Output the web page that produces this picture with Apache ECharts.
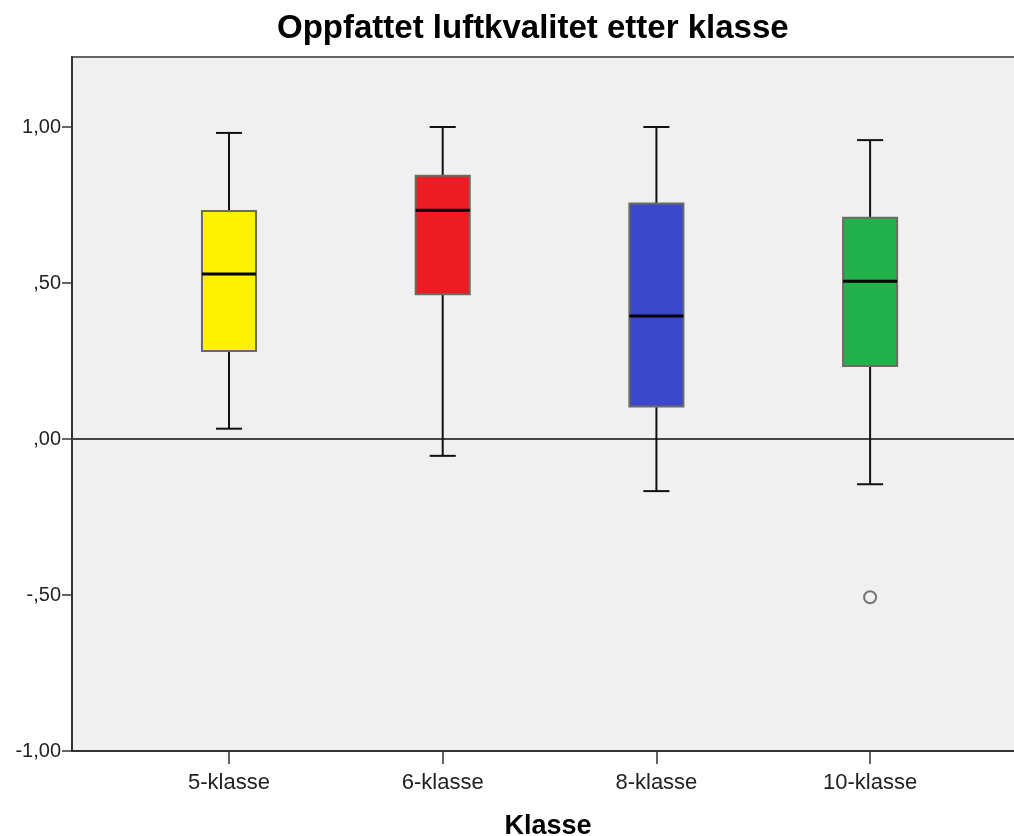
<!DOCTYPE html>
<html><head><meta charset="utf-8">
<script src="https://cdn.jsdelivr.net/npm/echarts@6/dist/echarts.min.js"></script>
<style>html,body{margin:0;padding:0;background:#fff;overflow:hidden}#c{width:1014px;height:836px}</style>
</head><body><div id="c"></div>
<script>
// ---- data ----
const categories = ['5-klasse', '6-klasse', '8-klasse', '10-klasse'];
const whiskerLow  = [0.033, -0.054, -0.167, -0.145];
const q1          = [0.282,  0.464,  0.104,  0.234];
const median      = [0.529,  0.733,  0.394,  0.506];
const q3          = [0.731,  0.844,  0.755,  0.709];
const whiskerHigh = [0.981,  1.000,  1.000,  0.958];
const outlierCategory = [3];      // index into categories
const outlierValue    = [-0.507];
const yTickValues = [-1, -0.5, 0, 0.5, 1];
// ---- style ----
const boxColors = ['#FFF200', '#ED1C24', '#3C48CC', '#22B14C'];
const FONT = "'Liberation Sans', Arial, sans-serif";

const boxData = categories.map((c, i) => [i + 1, whiskerLow[i], q1[i], median[i], q3[i], whiskerHigh[i]]);
const outData = outlierCategory.map((ci, k) => [ci + 1, outlierValue[k]]);

function fmtY(v) {
  let s = Math.abs(v).toFixed(2).replace('.', ',');
  if (s.startsWith('0')) s = s.slice(1);
  return (v < 0 ? '-' : '') + s;
}

function renderItem(params, api) {
  const x = api.value(0);
  const lo = api.coord([x, api.value(1)]);
  const b1 = api.coord([x, api.value(2)]);
  const md = api.coord([x, api.value(3)]);
  const b3 = api.coord([x, api.value(4)]);
  const hi = api.coord([x, api.value(5)]);
  const unit = api.size([1, 0])[0];
  const bw = unit * 0.253, cw = unit * 0.122;
  const cx = lo[0];
  const wStyle = { stroke: '#111', lineWidth: 2 };
  return {
    type: 'group',
    children: [
      { type: 'line', shape: { x1: cx, y1: b3[1], x2: cx, y2: hi[1] }, style: wStyle },
      { type: 'line', shape: { x1: cx, y1: b1[1], x2: cx, y2: lo[1] }, style: wStyle },
      { type: 'line', shape: { x1: cx - cw / 2, y1: hi[1], x2: cx + cw / 2, y2: hi[1] }, style: wStyle },
      { type: 'line', shape: { x1: cx - cw / 2, y1: lo[1], x2: cx + cw / 2, y2: lo[1] }, style: wStyle },
      { type: 'rect', shape: { x: cx - bw / 2, y: b3[1], width: bw, height: b1[1] - b3[1] },
        style: { fill: boxColors[params.dataIndex], stroke: '#6b6b62', lineWidth: 2 } },
      { type: 'line', shape: { x1: cx - bw / 2, y1: md[1], x2: cx + bw / 2, y2: md[1] },
        style: { stroke: '#000', lineWidth: 3 } }
    ]
  };
}

const chart = echarts.init(document.getElementById('c'), null, { renderer: 'canvas' });
chart.setOption({
  animation: false,
  backgroundColor: '#fff',
  title: {
    text: 'Oppfattet luftkvalitet etter klasse',
    left: 272, top: 7,
    textStyle: { fontFamily: FONT, fontSize: 33, fontWeight: 'bold', color: '#000' }
  },
  grid: {
    left: 72, top: 57, width: 952, height: 694,
    outerBoundsMode: 'none',
    containLabel: false,
    show: true, backgroundColor: '#F0F0F0', borderColor: '#666', borderWidth: 2
  },
  xAxis: {
    type: 'value',
    min: 1 - 157 / 213.7, max: 1 + 795 / 213.7,
    splitLine: { show: false },
    axisLine: { show: true, onZero: false, lineStyle: { color: '#333', width: 2 } },
    axisTick: { show: true, length: 13, customValues: categories.map((c, i) => i + 1), lineStyle: { color: '#333', width: 1.5 } },
    axisLabel: {
      customValues: categories.map((c, i) => i + 1),
      formatter: v => categories[Math.round(v) - 1] || '',
      margin: 21, fontFamily: FONT, fontSize: 22, color: '#222'
    },
    name: 'Klasse', nameLocation: 'middle', nameGap: 62,
    nameTextStyle: { fontFamily: FONT, fontSize: 27, fontWeight: 'bold', color: '#000' }
  },
  yAxis: {
    type: 'value', min: -1, max: 1 + 70 / 312,
    splitLine: { show: false },
    axisLine: { show: true, onZero: false, lineStyle: { color: '#333', width: 2 } },
    axisTick: { show: true, length: 10, customValues: yTickValues, lineStyle: { color: '#333', width: 1.5 } },
    axisLabel: {
      customValues: yTickValues, formatter: fmtY,
      margin: 11, fontFamily: FONT, fontSize: 20, color: '#222'
    }
  },
  series: [
    {
      type: 'custom',
      renderItem: renderItem,
      encode: { x: 0, y: [1, 2, 3, 4, 5] },
      data: boxData,
      z: 3,
      markLine: {
        silent: true, symbol: 'none', label: { show: false },
        lineStyle: { color: '#444', width: 2, type: 'solid' },
        data: [{ yAxis: 0 }],
        z: 2
      }
    },
    {
      type: 'scatter',
      data: outData,
      symbol: 'circle', symbolSize: 12,
      itemStyle: { color: '#F0F0F0', borderColor: '#555', borderWidth: 2 },
      z: 4
    }
  ]
});
</script>
</body></html>
